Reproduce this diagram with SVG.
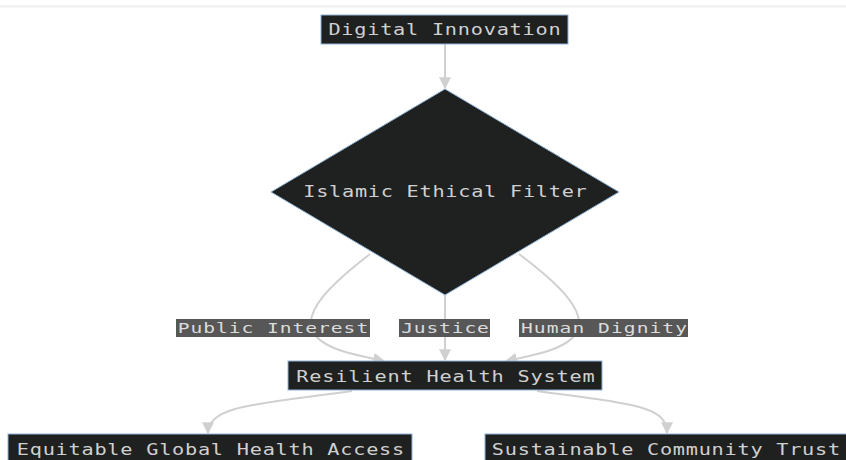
<svg xmlns="http://www.w3.org/2000/svg" width="846" height="460" viewBox="0 0 846 460">
  <style>
    .node rect, .node polygon { fill: #1f2020; stroke: #8fb3d6; stroke-width: 1; }
    .node text { fill: #d0d0d0; font-family: "DejaVu Sans Mono", "Liberation Mono", monospace; font-size: 15px; text-anchor: middle; }
    .edge { fill: none; stroke: #d0d0d0; stroke-width: 2; }
    .elabel rect { fill: #575757; }
    .elabel text { fill: #dcdcdc; font-family: "DejaVu Sans Mono", "Liberation Mono", monospace; font-size: 14.5px; text-anchor: middle; }
  </style>
  <defs>
    <marker id="arrow" viewBox="0 0 10 10" refX="9" refY="5" markerWidth="6" markerHeight="6" markerUnits="strokeWidth" orient="auto">
      <path d="M0,0 L10,5 L0,10 z" fill="#d0d0d0"/>
    </marker>
  </defs>

  <rect x="0" y="0" width="846" height="460" fill="#ffffff"/>
  <rect x="0" y="5" width="846" height="2.5" fill="#f2f2f2"/>

  <!-- connectors -->
  <g id="connectors">
    <path class="edge" d="M445,44 L445,88" marker-end="url(#arrow)"/>
    <path class="edge" d="M370,254 C330,285 305,310 312,330 C320,348 350,354 384,361" marker-end="url(#arrow)"/>
    <path class="edge" d="M445,295 L445,360" marker-end="url(#arrow)"/>
    <path class="edge" d="M519,254 C560,285 585,310 578,330 C570,348 540,354 506,361" marker-end="url(#arrow)"/>
    <path class="edge" d="M352,391 C260,404 208,405 208,433" marker-end="url(#arrow)"/>
    <path class="edge" d="M537,391 C630,404 667,405 667,433" marker-end="url(#arrow)"/>
  </g>

  <!-- edge labels (text widened with a horizontal scale) -->
  <g id="label-public-interest" class="elabel">
    <rect x="176" y="319" width="194" height="18"/>
    <text transform="translate(273,333) scale(1.35,1)" textLength="141" lengthAdjust="spacing">Public Interest</text>
  </g>
  <g id="label-justice" class="elabel">
    <rect x="399" y="319" width="91" height="18"/>
    <text transform="translate(445,333) scale(1.35,1)" textLength="65" lengthAdjust="spacing">Justice</text>
  </g>
  <g id="label-human-dignity" class="elabel">
    <rect x="519" y="319" width="169" height="18"/>
    <text transform="translate(604,333) scale(1.35,1)" textLength="123" lengthAdjust="spacing">Human Dignity</text>
  </g>

  <!-- nodes -->
  <g id="digital-innovation" class="node">
    <rect x="321" y="15" width="247" height="29"/>
    <text transform="translate(444.5,35) scale(1.35,1)" textLength="172" lengthAdjust="spacing">Digital Innovation</text>
  </g>
  <g id="islamic-ethical-filter" class="node">
    <polygon points="445,89 619,192 445,295 271,192"/>
    <text transform="translate(445,197) scale(1.35,1)" textLength="210" lengthAdjust="spacing">Islamic Ethical Filter</text>
  </g>
  <g id="resilient-health-system" class="node">
    <rect x="288" y="361" width="314" height="29"/>
    <text transform="translate(445.5,382) scale(1.35,1)" textLength="221" lengthAdjust="spacing">Resilient Health System</text>
  </g>
  <g id="equitable-global-health-access" class="node">
    <rect x="8" y="434" width="404" height="36"/>
    <text transform="translate(210.5,455) scale(1.35,1)" textLength="287" lengthAdjust="spacing">Equitable Global Health Access</text>
  </g>
  <g id="sustainable-community-trust" class="node">
    <rect x="485" y="434" width="370" height="36"/>
    <text transform="translate(666,455) scale(1.35,1)" textLength="258" lengthAdjust="spacing">Sustainable Community Trust</text>
  </g>
</svg>
